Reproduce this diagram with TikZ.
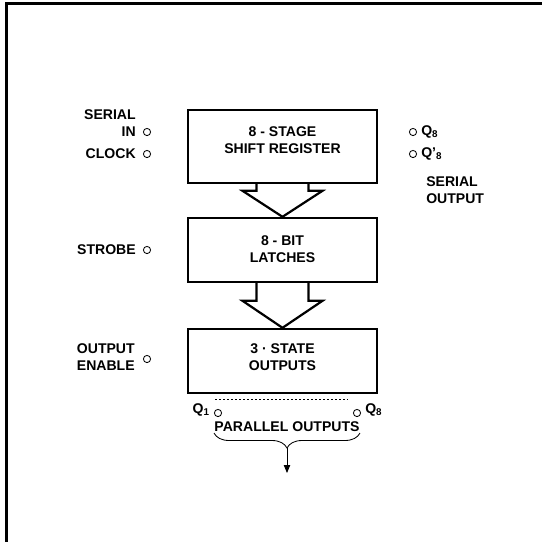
\documentclass[tikz,border=0pt]{standalone}
\usepackage{fontspec}
\setmainfont{Liberation Sans}
\usepackage{tikz}
\usetikzlibrary{arrows.meta,positioning,calc,decorations.pathreplacing}
\tikzset{
  >={Triangle[length=2mm,width=1.6mm]},
  block/.style ={draw,line width=0.6mm,minimum width=47.25mm,inner sep=0pt},
  title/.style ={font=\fontsize{10}{12}\selectfont\bfseries,align=center,inner sep=0pt},
  lbl/.style   ={font=\fontsize{10}{12}\selectfont\bfseries,inner sep=0pt},
  pad/.style   ={draw,circle,line width=0.6pt,minimum size=1.8mm,inner sep=0pt},
  hollow/.style={line width=0.55mm,line join=miter},
  thinln/.style={line width=0.6pt},
}
\begin{document}
\begin{tikzpicture}[x=0.25mm,y=-0.25mm]
\useasboundingbox (0,0) rectangle (542,542);
% frame
\draw[line width=0.75mm] (6.5,542) -- (6.5,3.5) -- (542,3.5);
% blocks
\node[block,minimum height=18.25mm] (shreg) at (282.5,146.5) {};
\node[title] (shregtxt) at (282.5,140) {8 - STAGE\\SHIFT REGISTER};
\node[block,minimum height=16mm] (latch) at (282.5,250) {};
\node[title] (latchtxt) at (282.5,249) {8 - BIT\\LATCHES};
\node[block,minimum height=16mm] (outs) at (282.5,361) {};
\node[title] (outstxt) at (282.5,357.5) {3 · STATE\\OUTPUTS};
% wide arrows
\draw[hollow] ($(shreg.south)+(-26,0)$) |- ($(latch.north)+(-40,-26)$) -- (latch.north)
  -- ($(latch.north)+(40,-26)$) -| ($(shreg.south)+(26,0)$);
\draw[hollow] ($(latch.south)+(-26,0)$) |- ($(outs.north)+(-40,-27)$) -- (outs.north)
  -- ($(outs.north)+(40,-27)$) -| ($(latch.south)+(26,0)$);
% inputs
\node[pad] (sinpad) at (147,132) {};
\node[lbl,align=right,anchor=east] (sinlbl) at (136,123) {SERIAL\\IN};
\node[pad] (clkpad) at (147,154) {};
\node[lbl,anchor=east] (clklbl) at (136,154) {CLOCK};
\node[pad] (stbpad) at (147,250) {};
\node[lbl,anchor=east] (stblbl) at (136,250) {STROBE};
\node[pad] (oepad) at (147,359) {};
\node[lbl,align=right,anchor=east] (oelbl) at (135,357.5) {OUTPUT\\ENABLE};
% serial outputs
\node[pad] (qhpad) at (413,132) {};
\node[lbl,anchor=west] (qhlbl) at (421,132) {Q\textsubscript{8}};
\node[pad] (qhxpad) at (413,154) {};
\node[lbl,anchor=west] (qhxlbl) at (421,154) {Q'\textsubscript{8}};
\node[lbl,align=left,anchor=west] (serlbl) at (426,190) {SERIAL\\OUTPUT};
% parallel outputs
\coordinate (dashl) at (215,399);
\coordinate (dashr) at (348,399);
\draw[thinln,dash pattern=on 0.6mm off 0.4mm] (dashl) -- (dashr);
\node[pad] (qapad) at (218,413) {};
\node[lbl,anchor=east] (qalbl) at (210,410) {Q\textsubscript{1}};
\node[pad] (qbpad) at (357,413) {};
\node[lbl,anchor=west] (qblbl) at (365,410) {Q\textsubscript{8}};
\node[lbl] (parlbl) at (287,427) {PARALLEL OUTPUTS};
\coordinate (brl) at (214,433);
\coordinate (brr) at (360,433);
\draw[thinln,decorate,decoration={brace,amplitude=3.75mm,mirror}] (brl) -- (brr);
\coordinate (brtip) at (287,448);
\coordinate (parend) at (287,473);
\draw[thinln,->] (brtip) -- (parend);
\end{tikzpicture}
\end{document}
